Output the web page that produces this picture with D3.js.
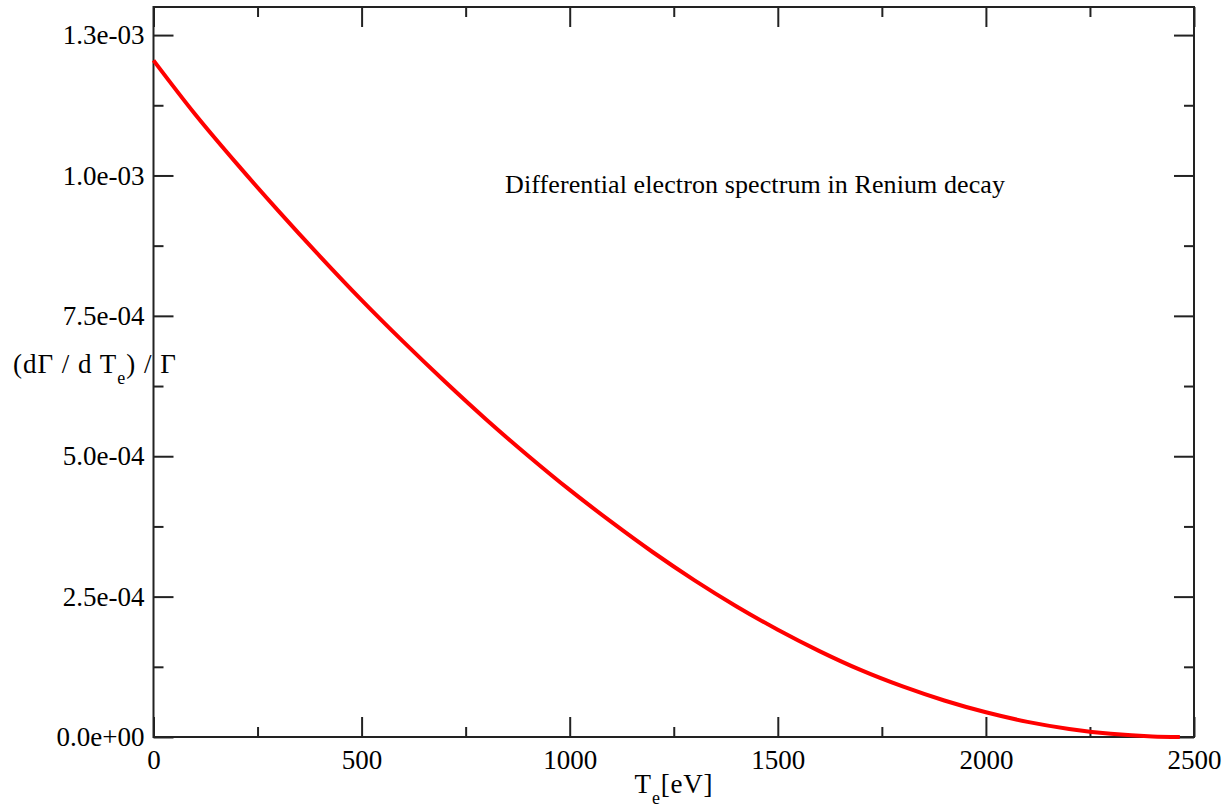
<!DOCTYPE html>
<html>
<head>
<meta charset="utf-8">
<script src="https://cdn.jsdelivr.net/npm/d3@7"></script>
<style>
    body { margin: 0; background: #fff; }
    text { font-family: "Liberation Serif", "Times New Roman", serif; fill: #000; }
</style>
</head>
<body>
<div id="chart"></div>
<script>
// Kinetic energy of the electron [eV]
var energy = [0, 100, 200, 300, 400, 500, 600, 700, 800, 900, 1000, 1100, 1200,
    1300, 1400, 1500, 1600, 1700, 1800, 1900, 2000, 2100, 2200, 2300, 2400, 2466];
// (dGamma / dT_e) / Gamma
var rate = [1.205e-3, 1.109e-3, 1.021e-3, 0.937e-3, 0.856e-3, 0.778e-3, 0.704e-3,
    0.633e-3, 0.565e-3, 0.501e-3, 0.440e-3, 0.383e-3, 0.329e-3, 0.279e-3,
    0.233e-3, 0.191e-3, 0.153e-3, 0.119e-3, 0.090e-3, 0.065e-3, 0.044e-3,
    0.027e-3, 0.0144e-3, 0.0056e-3, 0.0009e-3, 0];

var xMajor = [0, 500, 1000, 1500, 2000, 2500];
var xMinor = [250, 750, 1250, 1750, 2250];
var yMajor = [0, 2.5e-4, 5.0e-4, 7.5e-4, 1.0e-3, 1.25e-3];
var yMinor = [1.25e-4, 3.75e-4, 6.25e-4, 8.75e-4, 1.125e-3];

var title = "Differential electron spectrum in Renium decay";

var width = 1228, height = 811;
var margin = {top: 7, right: 34, bottom: 74, left: 153.5};
var w = width - margin.left - margin.right;
var h = height - margin.top - margin.bottom;

var svg = d3.select("#chart").append("svg")
    .attr("width", width)
    .attr("height", height);

var g = svg.append("g")
    .attr("transform", "translate(" + margin.left + "," + margin.top + ")");

var x = d3.scaleLinear().domain([0, 2500]).range([0, w]);
var y = d3.scaleLinear().domain([0, 1.3e-3]).range([h, 0]);

// tick labels like "1.3e-03"
function expFmt(v) {
    var s = v.toExponential(1);
    var parts = s.split("e");
    var ex = parseInt(parts[1], 10);
    var sign = ex < 0 ? "-" : "+";
    ex = Math.abs(ex);
    return parts[0] + "e" + sign + (ex < 10 ? "0" : "") + ex;
}

// Axes (ticks point inward, mirrored on all sides)
function styleAxis(sel) {
    sel.select(".domain").remove();
    sel.selectAll(".tick line").attr("stroke", "#222").attr("stroke-width", 2);
    sel.selectAll(".tick text").style("font-size", "27px");
}

g.append("g").attr("transform", "translate(0," + h + ")")
    .call(d3.axisBottom(x).tickValues(xMajor).tickSize(-20).tickPadding(13).tickFormat(d3.format("d")))
    .call(styleAxis);
g.append("g").attr("transform", "translate(0," + h + ")")
    .call(d3.axisBottom(x).tickValues(xMinor).tickSize(-10).tickFormat(""))
    .call(styleAxis);
g.append("g")
    .call(d3.axisTop(x).tickValues(xMajor).tickSize(-20).tickFormat(""))
    .call(styleAxis);
g.append("g")
    .call(d3.axisTop(x).tickValues(xMinor).tickSize(-10).tickFormat(""))
    .call(styleAxis);

g.append("g")
    .call(d3.axisLeft(y).tickValues(yMajor).tickSize(-20).tickPadding(9).tickFormat(expFmt))
    .call(styleAxis);
g.append("g")
    .call(d3.axisLeft(y).tickValues(yMinor).tickSize(-10).tickFormat(""))
    .call(styleAxis);
g.append("g").attr("transform", "translate(" + w + ",0)")
    .call(d3.axisRight(y).tickValues(yMajor).tickSize(-20).tickFormat(""))
    .call(styleAxis);
g.append("g").attr("transform", "translate(" + w + ",0)")
    .call(d3.axisRight(y).tickValues(yMinor).tickSize(-10).tickFormat(""))
    .call(styleAxis);

// Frame
g.append("rect")
    .attr("width", w)
    .attr("height", h)
    .attr("fill", "none")
    .attr("stroke", "#222")
    .attr("stroke-width", 2);

// Spectrum
var line = d3.line()
    .x(function(d, i) { return x(energy[i]); })
    .y(function(d) { return y(d); })
    .curve(d3.curveMonotoneX);

g.append("path")
    .datum(rate)
    .attr("fill", "none")
    .attr("stroke", "#ff0000")
    .attr("stroke-width", 4)
    .attr("d", line);

// Annotation
svg.append("text")
    .attr("x", 505)
    .attr("y", 193)
    .style("font-size", "26px")
    .style("letter-spacing", "0.1px")
    .text(title);

// Axis titles
var xl = svg.append("text")
    .attr("x", 674)
    .attr("y", 793)
    .attr("text-anchor", "middle")
    .style("font-size", "27px")
    .style("letter-spacing", "0.8px");
xl.append("tspan").text("T");
xl.append("tspan").attr("dy", 11).style("font-size", "18px").text("e");
xl.append("tspan").attr("dy", -11).text("[eV]");

var yl = svg.append("text")
    .attr("x", 13)
    .attr("y", 373)
    .style("font-size", "27px")
    .style("letter-spacing", "1px");
yl.append("tspan").text("(d\u0393 / d T");
yl.append("tspan").attr("dy", 11).style("font-size", "18px").text("e");
yl.append("tspan").attr("dy", -11).text(") /  \u0393");
</script>
</body>
</html>
